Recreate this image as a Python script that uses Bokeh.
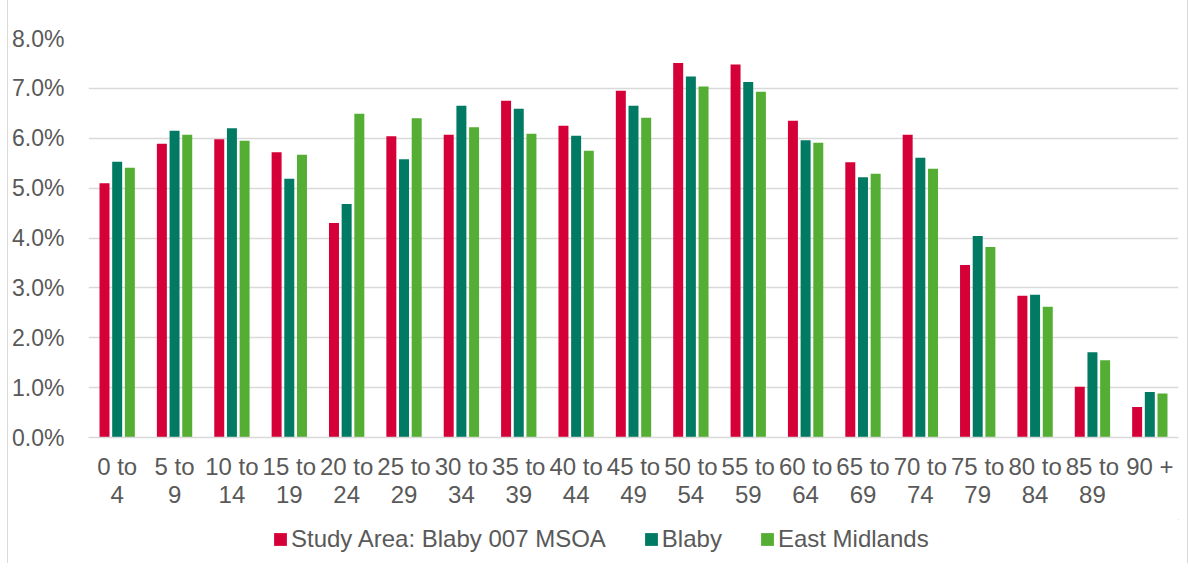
from bokeh.plotting import figure
from bokeh.layouts import column
from bokeh.models import ColumnDataSource, NumeralTickFormatter, Legend, LegendItem, FixedTicker
from bokeh.transform import dodge
from bokeh.embed import file_html
from bokeh.resources import INLINE

categories = ["0 to\n4", "5 to\n9", "10 to\n14", "15 to\n19", "20 to\n24", "25 to\n29", "30 to\n34",
              "35 to\n39", "40 to\n44", "45 to\n49", "50 to\n54", "55 to\n59", "60 to\n64", "65 to\n69",
              "70 to\n74", "75 to\n79", "80 to\n84", "85 to\n89", "90 +"]
study_area = [5.10, 5.89, 5.98, 5.72, 4.30, 6.04, 6.07, 6.75, 6.25, 6.95, 7.51, 7.48, 6.35, 5.52, 6.07, 3.46, 2.84, 1.02, 0.61]
blaby = [5.53, 6.15, 6.20, 5.19, 4.68, 5.58, 6.65, 6.59, 6.05, 6.65, 7.24, 7.13, 5.96, 5.22, 5.61, 4.04, 2.86, 1.71, 0.91]
east_midlands = [5.41, 6.07, 5.95, 5.67, 6.49, 6.40, 6.22, 6.09, 5.75, 6.41, 7.04, 6.93, 5.91, 5.29, 5.39, 3.82, 2.62, 1.55, 0.88]
series_names = ["Study Area: Blaby 007 MSOA", "Blaby", "East Midlands"]
y_ticks = [0.0, 0.01, 0.02, 0.03, 0.04, 0.05, 0.06, 0.07, 0.08]

colors = ["#D50037", "#007A63", "#54AE33"]
TEXT = "#595959"
FONT = "Liberation Sans"
FS = "24px"

src = ColumnDataSource(dict(
    cat=categories,
    s=[v / 100 for v in study_area],
    b=[v / 100 for v in blaby],
    e=[v / 100 for v in east_midlands],
))

p = figure(x_range=categories, y_range=(0, 0.08), width=1179, height=519,
           output_backend="svg", toolbar_location=None,
           min_border_left=80, min_border_right=9, min_border_top=38, min_border_bottom=82)

bw = 0.174
off = 0.221
p.vbar(x=dodge("cat", -off, range=p.x_range), top="s", width=bw, source=src, color=colors[0], line_color=None)
p.vbar(x=dodge("cat", 0, range=p.x_range), top="b", width=bw, source=src, color=colors[1], line_color=None)
p.vbar(x=dodge("cat", off, range=p.x_range), top="e", width=bw, source=src, color=colors[2], line_color=None)

p.x_range.range_padding = 0
p.outline_line_color = None
p.xgrid.grid_line_color = None
p.ygrid.grid_line_color = "#D9D9D9"
p.ygrid.grid_line_width = 1.5

p.yaxis.ticker = FixedTicker(ticks=y_ticks)
p.yaxis.formatter = NumeralTickFormatter(format="0.0%")
p.yaxis.axis_line_color = None
p.yaxis.major_tick_line_color = None
p.yaxis.minor_tick_line_color = None
p.yaxis.major_label_text_font = FONT
p.yaxis.major_label_text_font_size = "23px"
p.yaxis.major_label_text_color = TEXT
p.yaxis.major_label_standoff = 18

p.xaxis.axis_line_color = "#D9D9D9"
p.xaxis.axis_line_width = 1.5
p.xaxis.major_tick_line_color = None
p.xaxis.minor_tick_line_color = None
p.xaxis.major_label_text_font = FONT
p.xaxis.major_label_text_font_size = FS
p.xaxis.major_label_text_color = TEXT
p.xaxis.major_label_text_line_height = 1.05
p.xaxis.major_label_standoff = 9

# legend strip
lg = figure(width=1179, height=44, output_backend="svg", toolbar_location=None,
            x_range=(0, 1), y_range=(0, 1), min_border=0)
lg.axis.visible = False
lg.grid.visible = False
lg.outline_line_color = None
items = []
for name, col in zip(series_names, colors):
    r = lg.vbar(x=[5], top=[5], bottom=[4], width=0.1, color=col, line_color=None)
    items.append(LegendItem(label=name, renderers=[r]))
legend = Legend(items=items, orientation="horizontal", location=(184, 10),
                label_text_font=FONT, label_text_font_size=FS, label_text_color=TEXT,
                glyph_width=16, glyph_height=16, label_standoff=3, spacing=37,
                border_line_color=None, background_fill_alpha=0, padding=0, margin=0)
lg.add_layout(legend, "center")

layout = column(p, lg, spacing=0)
layout.styles = {"margin-left": "7px",
                 "border-left": "1px solid #D9D9D9", "border-right": "1px solid #D9D9D9"}

open("out.html", "w").write(file_html(layout, INLINE))
